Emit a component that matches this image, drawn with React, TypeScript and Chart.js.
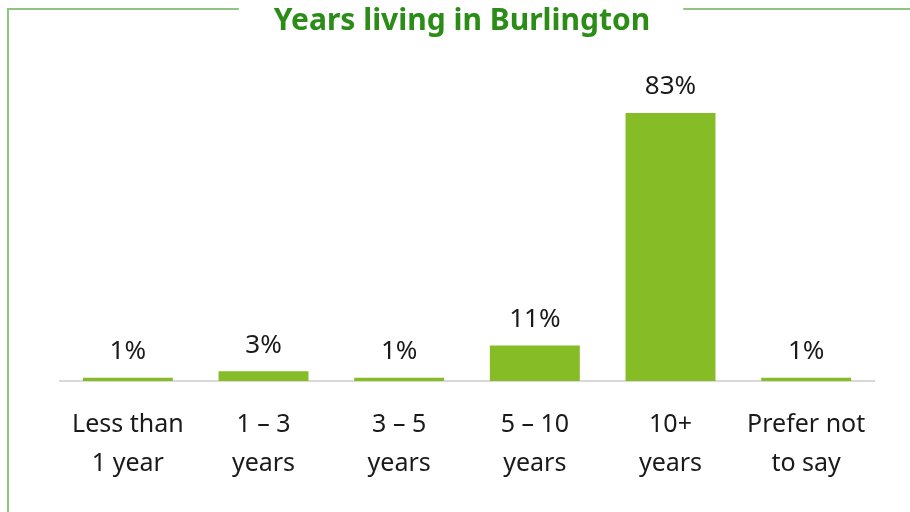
import React, { useEffect, useRef } from "react";
import { Chart, registerables } from "chart.js";

Chart.register(...registerables);

const chartTitle = "Years living in Burlington";
const categories: string[][] = [
  ["Less than", "1 year"],
  ["1 – 3", "years"],
  ["3 – 5", "years"],
  ["5 – 10", "years"],
  ["10+", "years"],
  ["Prefer not", "to say"],
];
const values: number[] = [1, 3, 1, 11, 83, 1];

const FONT = "'Noto Sans', 'Open Sans', sans-serif";
const BAR_COLOR = "#86bc25";
const TITLE_COLOR = "#2b8c17";
const FRAME_COLOR = "#8fc67f";

const framePlugin = {
  id: "frameTitle",
  beforeDraw(chart: any) {
    const ctx = chart.ctx as CanvasRenderingContext2D;
    ctx.save();
    ctx.font = `bold 30px ${FONT}`;
    const w = ctx.measureText(chartTitle).width;
    const cx = 462;
    ctx.strokeStyle = FRAME_COLOR;
    ctx.lineWidth = 2;
    ctx.beginPath();
    ctx.moveTo(8, 512);
    ctx.lineTo(8, 9);
    ctx.lineTo(cx - w / 2 - 35, 9);
    ctx.moveTo(cx + w / 2 + 33, 9);
    ctx.lineTo(910, 9);
    ctx.stroke();
    ctx.fillStyle = TITLE_COLOR;
    ctx.textAlign = "center";
    ctx.textBaseline = "middle";
    ctx.fillText(chartTitle, cx, 21);
    ctx.restore();
  },
};

const labelPlugin = {
  id: "valueLabels",
  afterDatasetsDraw(chart: any) {
    const ctx = chart.ctx as CanvasRenderingContext2D;
    const meta = chart.getDatasetMeta(0);
    ctx.save();
    ctx.font = `26px ${FONT}`;
    ctx.fillStyle = "#1a1a1a";
    ctx.textAlign = "center";
    ctx.textBaseline = "middle";
    meta.data.forEach((bar: any, i: number) => {
      ctx.fillText(values[i] + "%", bar.x, bar.y - 26);
    });
    ctx.restore();
  },
};

export default function App() {
  const ref = useRef<HTMLCanvasElement>(null);
  useEffect(() => {
    if (!ref.current) return;
    const chart = new Chart(ref.current, {
      type: "bar",
      data: {
        labels: categories,
        datasets: [
          {
            data: values,
            backgroundColor: BAR_COLOR,
            barPercentage: 0.663,
            categoryPercentage: 1,
          },
        ],
      },
      options: {
        animation: false,
        responsive: false,
        layout: { padding: { left: 60, right: 36, top: 58, bottom: 5 } },
        plugins: { legend: { display: false }, title: { display: false }, tooltip: { enabled: false } },
        scales: {
          x: {
            grid: { display: false, drawTicks: false },
            border: { display: true, color: "#d9d9d9", width: 2 },
            ticks: {
              color: "#1a1a1a",
              font: { family: FONT, size: 25, lineHeight: 1.56 },
              padding: 24,
              maxRotation: 0,
              autoSkip: false,
            },
          },
          y: {
            display: false,
            min: 0,
            max: 100,
          },
        },
      },
      plugins: [framePlugin, labelPlugin],
    });
    return () => chart.destroy();
  }, []);
  return (
    <div style={{ position: "absolute", left: 0, top: 0, width: 910, height: 512, background: "#fff" }}>
      <canvas ref={ref} width={910} height={512} />
    </div>
  );
}
